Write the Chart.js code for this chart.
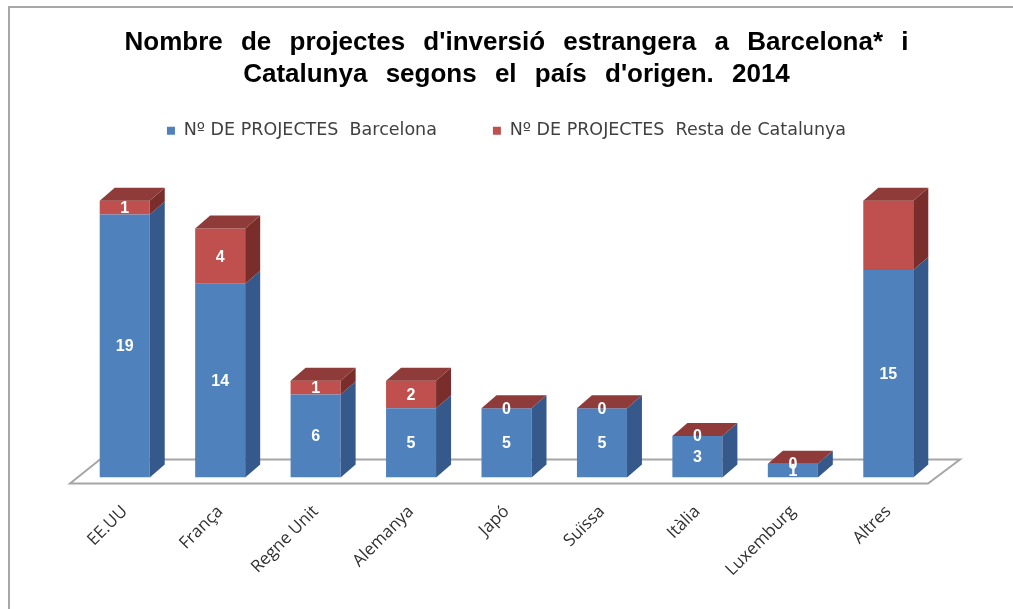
<!DOCTYPE html>
<html lang="ca">
<head>
<meta charset="UTF-8">
<title>Projectes d'inversió estrangera</title>
<script src="https://cdn.jsdelivr.net/npm/chart.js"></script>
<style>
  body { margin: 0; background: #fff; }
  .marc { position: relative; width: 1013px; height: 609px; overflow: hidden; }
  .marc canvas { position: absolute; left: 0; top: 0; }
  .vora { position: absolute; left: 8px; top: 6px; width: 1100px; height: 700px;
          border-top: 2px solid #a8a8a8; border-left: 2px solid #a8a8a8; }
  .titol { position: absolute; left: 10px; width: 1013px; text-align: center;
           font: bold 26px "Liberation Sans", Arial, sans-serif; color: #000;
           white-space: nowrap; word-spacing: 11px; }
  #t1 { top: 26px; }
  #t2 { top: 58px; }
</style>
</head>
<body>
<div class="marc">
  <div class="vora"></div>
  <canvas id="grafic" width="1013" height="609"></canvas>
  <div class="titol" id="t1">Nombre de projectes d'inversió estrangera a Barcelona* i</div>
  <div class="titol" id="t2">Catalunya segons el país d'origen. 2014</div>
</div>

<script>
// dades
const paisos = ['EE.UU', 'França', 'Regne Unit', 'Alemanya', 'Japó', 'Suïssa', 'Itàlia', 'Luxemburg', 'Altres'];
const barcelona = [19, 14, 6, 5, 5, 5, 3, 1, 15];
const restaCatalunya = [1, 4, 1, 2, 0, 0, 0, 0, 5];
// a l'original el valor de "Altres" per a la resta de Catalunya no porta etiqueta
const senseEtiqueta = ['Altres'];

const FONS = 15, ALT = 13;   // profunditat del efecte 3D

const colors = {
    blau: '#4f81bd', blauLateral: '#34598a',
    vermell: '#c0504d', vermellLateral: '#7a2e2c', vermellSostre: '#8e3b39'
};

function cara(ctx, punts, color) {
    ctx.beginPath();
    ctx.moveTo(punts[0][0], punts[0][1]);
    for (let i = 1; i < punts.length; i++) ctx.lineTo(punts[i][0], punts[i][1]);
    ctx.closePath();
    ctx.fillStyle = color;
    ctx.fill();
}

const barres3d = {
    id: 'barres3d',
    beforeDatasetsDraw(chart) {
        // el terra
        const { ctx, chartArea: a } = chart;
        const y = a.bottom;
        ctx.save();
        ctx.beginPath();
        ctx.moveTo(a.left - 7, y + 6);
        ctx.lineTo(a.right - 8, y + 6);
        ctx.lineTo(a.right + 24, y - 18);
        ctx.lineTo(a.left + 23, y - 18);
        ctx.closePath();
        ctx.strokeStyle = '#a6a6a6';
        ctx.lineWidth = 2;
        ctx.stroke();
        ctx.restore();
    },
    afterDatasetsDraw(chart) {
        const ctx = chart.ctx;
        const blaus = chart.getDatasetMeta(0).data;
        const vermells = chart.getDatasetMeta(1).data;
        ctx.save();
        for (let i = 0; i < blaus.length; i++) {
            const b = blaus[i].getProps(['x', 'y', 'base', 'width'], true);
            const r = vermells[i].getProps(['x', 'y', 'base', 'width'], true);
            const xl = b.x - b.width / 2, xr = b.x + b.width / 2;
            cara(ctx, [[xr, b.base], [xr, b.y], [xr + FONS, b.y - ALT], [xr + FONS, b.base - ALT]], colors.blauLateral);
            if (r.base - r.y > 0.5) {
                cara(ctx, [[xr, r.base], [xr, r.y], [xr + FONS, r.y - ALT], [xr + FONS, r.base - ALT]], colors.vermellLateral);
            }
            cara(ctx, [[xl, r.y], [xl + FONS, r.y - ALT], [xr + FONS, r.y - ALT], [xr, r.y]], colors.vermellSostre);
        }

        // etiquetes
        ctx.fillStyle = '#fff';
        ctx.font = 'bold 16px "Liberation Sans", Arial, sans-serif';
        ctx.textAlign = 'center';
        ctx.textBaseline = 'middle';
        chart.data.datasets.forEach((ds, d) => {
            chart.getDatasetMeta(d).data.forEach((el, i) => {
                if (d === 1 && senseEtiqueta.includes(paisos[i])) return;
                const p = el.getProps(['x', 'y', 'base'], true);
                ctx.fillText(String(ds.data[i]), p.x, (p.y + p.base) / 2 + 1);
            });
        });
        ctx.restore();
    }
};

new Chart(document.getElementById('grafic'), {
    type: 'bar',
    data: {
        labels: paisos,
        datasets: [
            {
                label: 'Nº DE PROJECTES  Barcelona',
                data: barcelona,
                backgroundColor: colors.blau,
                borderWidth: 0
            },
            {
                label: 'Nº DE PROJECTES  Resta de Catalunya',
                data: restaCatalunya,
                backgroundColor: colors.vermell,
                borderWidth: 0
            }
        ]
    },
    options: {
        responsive: false,
        animation: false,
        devicePixelRatio: 1,
        datasets: { bar: { categoryPercentage: 1, barPercentage: 0.524 } },
        layout: { padding: { top: 66, left: 77, right: 77, bottom: 13 } },
        plugins: {
            title: { display: false },
            tooltip: { enabled: false },
            legend: {
                position: 'top',
                labels: {
                    boxWidth: 8,
                    boxHeight: 8,
                    padding: 56,
                    color: '#404040',
                    font: { family: '"DejaVu Sans", sans-serif', size: 17.5 }
                }
            }
        },
        scales: {
            x: {
                stacked: true,
                grid: { display: false },
                border: { display: false },
                ticks: {
                    minRotation: 45,
                    maxRotation: 45,
                    padding: 16,
                    color: '#303030',
                    font: { family: '"Open Sans", sans-serif', size: 17 }
                }
            },
            y: {
                stacked: true,
                display: false,
                min: 0,
                max: 23.7
            }
        }
    },
    plugins: [barres3d]
});
</script>
</body>
</html>
